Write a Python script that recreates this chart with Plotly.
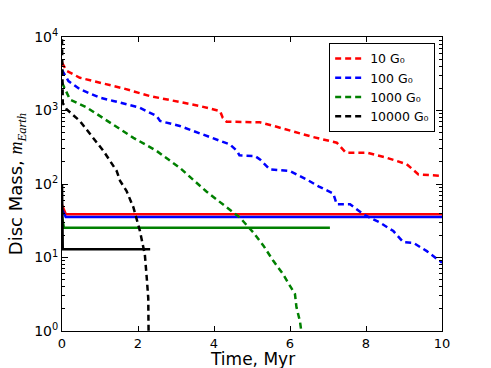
import plotly.graph_objects as go

# dashed curves: disc mass vs time for each FUV field
t_10 = [0, 0.12, 0.47, 1.0, 1.61, 2.32, 3.11, 3.63, 4.16, 4.23, 4.33, 5.21, 5.65, 6.09,
        6.61, 7.23, 7.47, 8.02, 8.54, 9.07, 9.38, 10.0]
m_10 = [4470, 3470, 2790, 2390, 2000, 1570, 1300, 1150, 980, 795, 705, 690, 600, 515,
        435, 365, 267, 267, 228, 186, 135, 129]

t_100 = [0, 0.17, 0.47, 1.0, 1.35, 2.05, 2.49, 2.58, 3.1, 3.46, 3.98, 4.42, 4.61, 4.67,
         5.08, 5.21, 5.47, 6.0, 6.44, 6.75, 7.14, 7.23, 7.58, 7.93, 8.37, 8.72, 8.98,
         9.25, 9.6, 10.0]
m_100 = [3550, 2510, 1950, 1490, 1350, 1090, 840, 720, 615, 525, 415, 345, 280, 245,
         240, 216, 158, 150, 115, 93, 74, 53, 53, 38.7, 29.8, 22.9, 16.2, 15.8, 12.2, 8.5]

t_1000 = [0, 0.12, 0.21, 0.65, 1.26, 1.88, 2.49, 3.1, 3.8, 4.33, 4.68, 5.03, 5.3, 5.56,
          5.82, 6.0, 6.13, 6.17, 6.26, 6.31]
m_1000 = [2400, 1740, 1410, 1100, 680, 425, 282, 166, 79, 48, 35, 22, 14.5, 9, 5.9,
          4.1, 3.2, 2.1, 1.37, 0.9]

t_10000 = [0, 0.02, 0.12, 0.47, 0.74, 1.09, 1.44, 1.53, 1.7, 1.88, 2.05, 2.18, 2.23,
           2.27, 2.28]
m_10000 = [9300, 1260, 1040, 720, 478, 282, 150, 110, 80, 48, 23, 11, 5.3, 2.8, 0.8]

# solid curves (lower mass branch)
ts_10 = [0, 0.1, 10.0]
ms_10 = [52, 38.7, 38.7]
ts_100 = [0, 0.1, 10.0]
ms_100 = [45, 35.5, 35.5]
ts_1000 = [0, 0.05, 7.05]
ms_1000 = [36, 25.4, 25.4]
ts_10000 = [0, 0.02, 2.32]
ms_10000 = [100, 12.9, 12.9]

labels = ["10 G₀", "100 G₀", "1000 G₀", "10000 G₀"]
colors = ["#ff0000", "#0000ff", "#008000", "#000000"]

major_y = [1, 10, 100, 1000, 10000]
major_y_text = ["10<sup>0</sup>", "10<sup>1</sup>", "10<sup>2</sup>", "10<sup>3</sup>", "10<sup>4</sup>"]
minor_y = [k * 10 ** d for d in range(4) for k in range(2, 10)]

dashed = [(t_10, m_10), (t_100, m_100), (t_1000, m_1000), (t_10000, m_10000)]
solid = [(ts_10, ms_10), (ts_100, ms_100), (ts_1000, ms_1000), (ts_10000, ms_10000)]

fig = go.Figure()

for (t, m), c in zip(solid, colors):
    fig.add_trace(go.Scatter(x=t, y=m, mode="lines", showlegend=False,
                             line=dict(color=c, width=2.5)))

for (t, m), c, name in zip(dashed, colors, labels):
    fig.add_trace(go.Scatter(x=t, y=m, mode="lines", name=name,
                             line=dict(color=c, width=2.5, dash="6px,4px")))

fig.update_layout(
    width=491, height=368,
    font=dict(family="DejaVu Sans", size=13, color="black"),
    margin=dict(l=62, r=49, t=37, b=37, autoexpand=False),
    plot_bgcolor="white", paper_bgcolor="white",
    legend=dict(x=0.982, y=0.98, xanchor="right", yanchor="top",
                bordercolor="black", borderwidth=1, bgcolor="white",
                font=dict(size=12.5), tracegroupgap=0),
)
# x title as annotation for exact placement under the tick labels
fig.add_annotation(text="Time, Myr", xref="paper", yref="paper", x=0.5, y=0,
                   xanchor="center", yanchor="top", yshift=-16, showarrow=False,
                   font=dict(size=17))
fig.update_xaxes(
    range=[0, 10], dtick=2, ticks="inside", ticklen=5, tickcolor="black",
    mirror="allticks", automargin=False, tickfont=dict(size=13),
    showline=True, linecolor="black", linewidth=1, showgrid=False, zeroline=False,
)
fig.update_yaxes(
    type="log", range=[0, 4],
    tickmode="array", tickvals=major_y, ticktext=major_y_text,
    ticks="inside", ticklen=6, tickcolor="black", mirror="allticks",
    automargin=False, tickfont=dict(size=14),
    minor=dict(tickmode="array", tickvals=minor_y, ticks="inside", ticklen=3,
               tickcolor="black", showgrid=False),
    showline=True, linecolor="black", linewidth=1, showgrid=False, zeroline=False,
    title=dict(text="Disc Mass, <span style='font-family:Liberation Serif'><i>m</i><sub><i>Earth</i></sub></span>",
               font=dict(size=18), standoff=6),
)

fig.write_html("out.html", config={"displayModeBar": False},
               post_script="document.body.style.margin='0';")
